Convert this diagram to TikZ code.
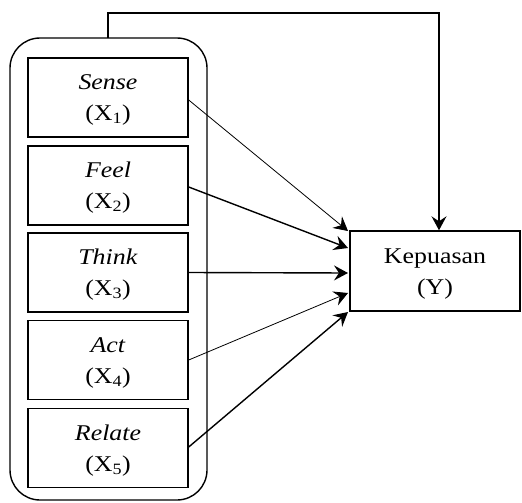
\documentclass[tikz,border=0pt]{standalone}
\usepackage{fontspec}
\setmainfont{Liberation Serif}[FakeStretch=1.15]
\usetikzlibrary{arrows.meta}
\begin{document}
\begin{tikzpicture}[x=1pt,y=-1pt,
  dim/.style={draw,line width=1.4pt,minimum width=160pt,minimum height=79pt,
    align=center,inner sep=0pt,font=\fontsize{22.5}{31}\selectfont},
  link/.style={-{Stealth[length=14pt,width=15pt,inset=5pt]}},
  thin/.style={line width=0.8pt},
  thick/.style={line width=1.4pt}]
\useasboundingbox (0,0) rectangle (522,503);
% outer group
\node[draw,line width=1.4pt,rounded corners=30pt,minimum width=197pt,minimum height=462pt,inner sep=0pt]
  (grp) at (108.5,269) {};
% dimensions
\node[dim] (x1) at (108,97.5) {\rule{0pt}{20pt}\textit{Sense}\\(X\textsubscript{1})};
\node[dim] (x2) at (108,185.5) {\rule{0pt}{20pt}\textit{Feel}\\(X\textsubscript{2})};
\node[dim] (x3) at (108,272.5) {\rule{0pt}{20pt}\textit{Think}\\(X\textsubscript{3})};
\node[dim] (x4) at (108,360) {\rule{0pt}{20pt}\textit{Act}\\(X\textsubscript{4})};
\node[dim] (x5) at (108,448) {\rule{0pt}{20pt}\textit{Relate}\\(X\textsubscript{5})};
% outcome
\node[dim,minimum width=170pt,minimum height=80pt] (y) at (435,271) {\rule{0pt}{20pt}Kepuasan\\(Y)};
% paths
\coordinate (c1) at (108,13);
\coordinate (c2) at (439,13);
\coordinate (t1) at (348,231);
\coordinate (t2) at (348,248);
\coordinate (t3) at (348,273);
\coordinate (t4) at (348,293);
\coordinate (t5) at (348,312);
\draw[thick,line cap=rect] (grp.north -| c1) -- (c1) -- (c2);
\draw[thick,link] (c2) -- (c2 |- y.north);
\draw[thin,link] (x1.east |- 0,100) -- (t1);
\draw[thick,link] (x2.east |- 0,187) -- (t2);
\draw[thick,link] (x3.east) -- (t3);
\draw[thin,link] (x4.east) -- (t4);
\draw[thick,link] (x5.east |- 0,447) -- (t5);
\end{tikzpicture}
\end{document}
